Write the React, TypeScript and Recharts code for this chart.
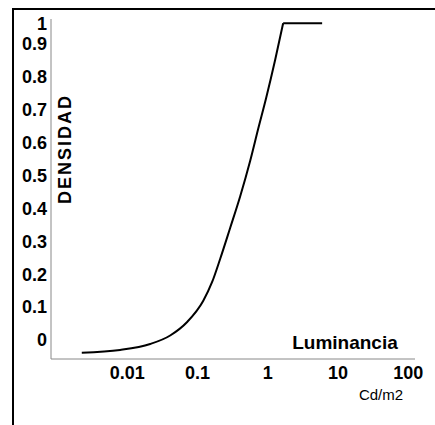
import React from 'react';
import { LineChart, Line, XAxis, YAxis, Customized } from 'recharts';

// Luminance (Cd/m2) and density
const luminance = [0.00225, 0.0079, 0.0212, 0.0408, 0.0712, 0.1203, 0.1616, 0.21, 0.2915, 0.4045, 0.5615, 0.73, 0.949, 1.274, 1.657];
const density = [-0.0386, -0.0304, -0.0122, 0.0137, 0.0547, 0.1185, 0.1763, 0.2462, 0.3404, 0.4362, 0.5441, 0.6413, 0.7356, 0.851, 0.963];
// flat top of the curve
const plateauLuminance = [1.657, 5.95];
const plateauDensity = [0.963, 0.963];

const xTicks = [0.01, 0.1, 1, 10, 100];
const xTickLabels = ['0.01', '0.1', '1', '10', '100'];
const yTicks = [0, 0.1, 0.2, 0.3, 0.4, 0.5, 0.6, 0.7, 0.8, 0.9, 0.963];
const yTickLabels = ['0', '0.1', '0.2', '0.3', '0.4', '0.5', '0.6', '0.7', '0.8', '0.9', '1'];

const curveData = luminance.map((x, i) => ({ x, y: density[i] }));
const plateauData = plateauLuminance.map((x, i) => ({ x, y: plateauDensity[i] }));

const FONT = '"Liberation Sans", Arial, sans-serif';

const Titles = () => (
  <g style={{ fontFamily: FONT }}>
    <text x={71} y={149} transform="rotate(-90 71 149)" textAnchor="middle" fontSize={18} fontWeight="bold" letterSpacing={2} fill="#000">
      DENSIDAD
    </text>
    <text x={345} y={349} textAnchor="middle" fontSize={19} fontWeight="bold" fill="#000">
      Luminancia
    </text>
    <text x={381} y={400} textAnchor="middle" fontSize={15} fill="#000">
      Cd/m2
    </text>
  </g>
);

export default function App() {
  return (
    <div style={{ position: 'absolute', left: 0, top: 0, width: 435, height: 425, overflow: 'hidden', background: '#fff' }}>
      <div style={{ position: 'absolute', left: 12, top: 8, width: 600, height: 600, border: '2px solid #000', boxSizing: 'border-box' }} />
      <div style={{ position: 'absolute', left: 0, top: 0 }}>
        <LineChart width={435} height={425} margin={{ top: 19, right: 20, bottom: 36, left: 0 }} style={{ fontFamily: FONT }}>
          <XAxis
            dataKey="x"
            type="number"
            scale="log"
            domain={[0.00082, 125]}
            allowDataOverflow
            ticks={xTicks}
            tickFormatter={(v: number) => xTickLabels[xTicks.indexOf(v)] ?? String(v)}
            height={30}
            axisLine={{ stroke: '#888', strokeWidth: 1 }}
            tickLine={false}
            tickSize={4}
            tickMargin={3}
            tick={{ fill: '#000', fontSize: 18, fontWeight: 'bold', fontFamily: FONT }}
            interval={0}
          />
          <YAxis
            type="number"
            domain={[-0.0578, 0.9757]}
            allowDataOverflow
            ticks={yTicks}
            tickFormatter={(v: number) => yTickLabels[yTicks.indexOf(v)] ?? String(v)}
            width={51}
            axisLine={{ stroke: '#888', strokeWidth: 1 }}
            tickLine={false}
            tickSize={2}
            tickMargin={2}
            tick={{ fill: '#000', fontSize: 18, fontWeight: 'bold', fontFamily: FONT }}
            interval={0}
          />
          <Line data={curveData} dataKey="y" type="monotone" stroke="#000" strokeWidth={2} dot={false} isAnimationActive={false} />
          <Line data={plateauData} dataKey="y" type="linear" stroke="#000" strokeWidth={2} dot={false} isAnimationActive={false} />
          <Customized component={Titles} />
        </LineChart>
      </div>
    </div>
  );
}
